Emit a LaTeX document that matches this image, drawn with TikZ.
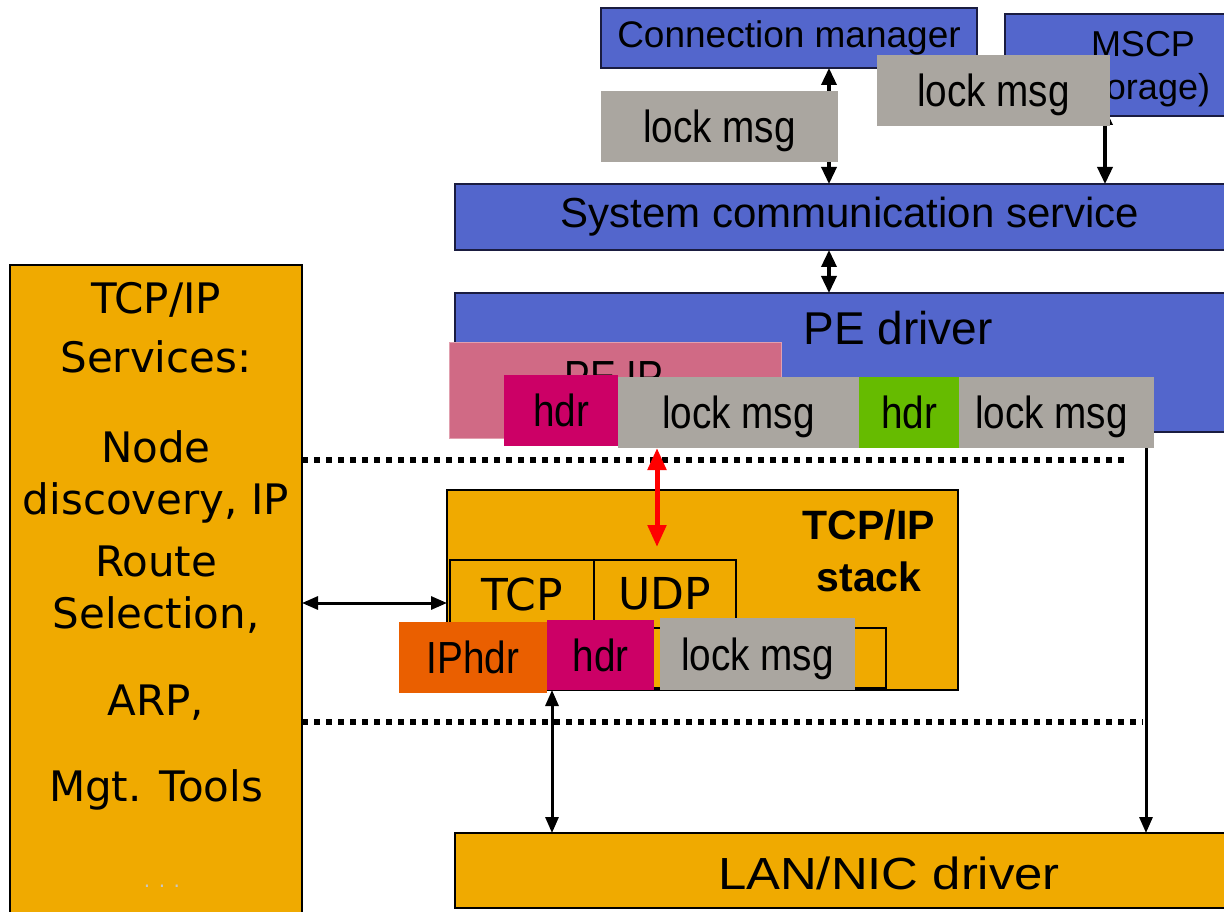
\documentclass[tikz,border=0pt]{standalone}
\usepackage{fontspec}
\setmainfont{Liberation Sans}
\newfontfamily\wideface{DejaVu Sans}
\newfontfamily\narrowface[FakeStretch=0.86]{Liberation Sans}
\usetikzlibrary{arrows.meta}

\definecolor{layerblue}{RGB}{83,102,204}
\definecolor{edgeblue}{RGB}{26,28,64}
\definecolor{msggray}{RGB}{170,166,160}
\definecolor{stackorange}{RGB}{240,170,0}
\definecolor{peipink}{RGB}{208,106,133}
\definecolor{peipinkedge}{RGB}{225,160,175}
\definecolor{hdrmagenta}{RGB}{204,0,102}
\definecolor{hdrgreen}{RGB}{102,187,0}
\definecolor{iporange}{RGB}{234,95,0}

\tikzset{
  block/.style={inner sep=0pt, outer sep=0pt, anchor=north west},
  layer/.style={block, fill=layerblue, draw=edgeblue, line width=1.5pt},
  orangebox/.style={block, fill=stackorange, draw=black, line width=2pt},
  msg/.style={block, fill=msggray, text depth=0pt, font=\narrowface\fontsize{45}{50}\selectfont},
  hdrbox/.style={block, text depth=0pt, font=\narrowface\fontsize{45}{50}\selectfont},
  label/.style={inner sep=0pt, outer sep=0pt},
  dbl/.style={{Triangle[length=17pt,width=15pt]}-{Triangle[length=17pt,width=15pt]}, line width=3.5pt},
  thindbl/.style={{Triangle[length=16pt,width=13pt]}-{Triangle[length=16pt,width=13pt]}, line width=3pt},
  redarrow/.style={{Triangle[length=22pt,width=18pt]}-{Triangle[length=22pt,width=18pt]}, line width=5pt, draw=red, color=red},
  boundary/.style={line width=6pt, dash pattern=on 6pt off 6pt},
}

\begin{document}
\begin{tikzpicture}[x=1pt, y=-1pt]
\useasboundingbox (0,0) rectangle (1224,912);
\fill[white] (0,0) rectangle (1224,912);
\clip (0,0) rectangle (1224,912);

% column positions of the vertical connectors
\coordinate (xa) at (829,0);
\coordinate (xb) at (1105,0);
\coordinate (xc) at (1146,0);
\coordinate (xd) at (657,0);
\coordinate (xe) at (552,0);
\coordinate (ya) at (0,603);
\coordinate (redtip) at (657,547);

% upper layers
\node[layer, minimum width=376pt, minimum height=60pt, font=\fontsize{37}{40}\selectfont] (cm) at (601,8) {Connection manager};
\node[layer, minimum width=260pt, minimum height=102pt] (mscp) at (1005,14) {};
\node[label, font=\fontsize{36}{40}\selectfont] (mscpa) at (1143,44) {MSCP};
\node[label, font=\fontsize{36}{40}\selectfont] (mscpb) at (1138,90) {(storage)};
\node[layer, minimum width=790pt, minimum height=66pt, font=\fontsize{42}{46}\selectfont] (scs) at (455,184) {System communication service};
\node[layer, minimum width=790pt, minimum height=139pt] (pe) at (455,293) {};
\node[label, font=\fontsize{46}{50}\selectfont] (petext) at (898,328) {PE driver};

% lower layer
\node[orangebox, minimum width=790pt, minimum height=75pt] (lan) at (455,833) {};
\node[label, font=\fontsize{45}{50}\selectfont] (lantext) at (889,873) {\scalebox{1.13}[1]{LAN/NIC driver}};

% connectors between the upper layers
\draw[dbl] (cm.south -| xa) -- (scs.north -| xa);
\draw[dbl, shorten <=-8pt] (mscp.south -| xb) -- (scs.north -| xb);
\draw[dbl] (scs.south -| xa) -- (pe.north -| xa);
\draw[thindbl, shorten <=-2pt] (pe.south -| xc) -- (lan.north -| xc);

% messages passed to the communication service
\node[msg, minimum width=237pt, minimum height=71pt] (msga) at (601,91) {lock msg};
\node[msg, minimum width=233pt, minimum height=71pt] (msgb) at (877,55) {lock msg};

% PE driver packets
\node[block, fill=peipink, draw=peipinkedge, line width=1pt, minimum width=332pt, minimum height=96pt] (peip) at (449,342) {};
\node[label, anchor=base, font=\narrowface\fontsize{45}{50}\selectfont] (peiptext) at (614,392) {PE IP};
\node[hdrbox, fill=hdrmagenta, minimum width=114pt, minimum height=71pt] (hdra) at (504,375) {hdr};
\node[msg, minimum width=241pt, minimum height=71pt] (msgc) at (618,377) {lock msg};
\node[hdrbox, fill=hdrgreen, minimum width=100pt, minimum height=71pt] (hdrg) at (859,377) {hdr};
\node[msg, minimum width=195pt, minimum height=71pt] (msgd) at (959,377) {\hspace*{-10pt}lock msg};

% host boundaries
\coordinate (da) at (302,460);
\coordinate (db) at (1127,460);
\coordinate (dc) at (302,722);
\coordinate (dd) at (1143,722);
\draw[boundary] (da) -- (db);
\draw[boundary] (dc) -- (dd);

% TCP/IP stack
\node[orangebox, minimum width=511pt, minimum height=200pt] (stack) at (447,490) {};
\node[label, align=center, font=\bfseries\fontsize{41}{52}\selectfont] (stacktext) at (869,551) {TCP/IP\\stack};
\node[orangebox, minimum width=144pt, minimum height=68pt, font=\wideface\fontsize{44}{48}\selectfont] (tcp) at (450,560) {TCP};
\node[orangebox, minimum width=142pt, minimum height=68pt, font=\wideface\fontsize{44}{48}\selectfont] (udp) at (594,560) {UDP};
\node[orangebox, minimum width=436pt, minimum height=60pt] (ipl) at (450,628) {};
\node[hdrbox, fill=iporange, minimum width=148pt, minimum height=71pt] (iphdr) at (399,622) {IPhdr};
\node[hdrbox, fill=hdrmagenta, minimum width=107pt, minimum height=70pt] (hdrb) at (547,620) {hdr};
\node[msg, minimum width=195pt, minimum height=72pt] (msge) at (660,618) {lock msg};

\draw[redarrow] (msgc.south -| xd) -- (redtip);
\draw[thindbl] (hdrb.south -| xe) -- (lan.north -| xe);

% services column
\node[orangebox, minimum width=292pt, minimum height=660pt] (svc) at (10,265) {};
\begin{scope}[every node/.style={label, font=\wideface\fontsize{42}{46}\selectfont}]
\node (s1) at (156,300) {TCP/IP};
\node (s2) at (156,357) {Services:};
\node (s3) at (156,447) {Node};
\node (s4) at (156,503) {discovery, IP};
\node (s5) at (156,561) {Route};
\node (s6) at (156,615) {Selection,};
\node (s7) at (156,703) {ARP,};
\node (s8) at (156,790) {Mgt. Tools};
\end{scope}
\node[label, text=black!22, font=\wideface\fontsize{20}{22}\selectfont] (s9) at (162,886) {. . .};

\draw[thindbl] (svc.east |- ya) -- (stack.west |- ya);
\end{tikzpicture}
\end{document}
